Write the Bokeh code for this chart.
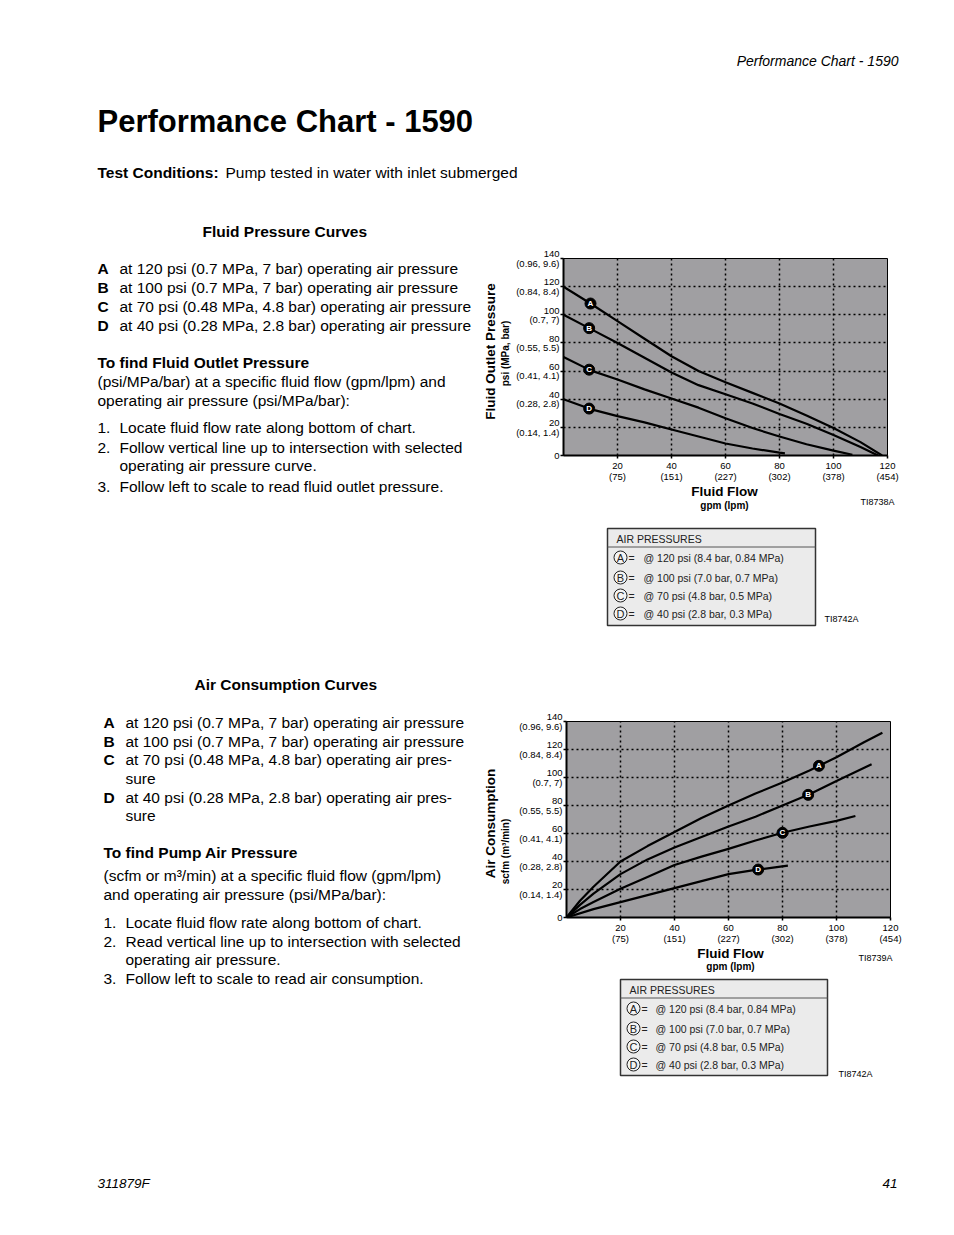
import numpy as np
from bokeh.plotting import figure
from bokeh.models import Range1d, FixedTicker
from bokeh.layouts import column, row
from bokeh.core.properties import value
from bokeh.embed import file_html
from bokeh.resources import INLINE

FONT = "Liberation Sans"
GRAY = "#a09fa2"

# ---------------- data ----------------
flow_ticks = [20, 40, 60, 80, 100, 120]
flow_lpm = ["75", "151", "227", "302", "378", "454"]
level_ticks = [0, 20, 40, 60, 80, 100, 120, 140]
level_metric = ["", "(0.14, 1.4)", "(0.28, 2.8)", "(0.41, 4.1)", "(0.55, 5.5)",
                "(0.7, 7)", "(0.84, 8.4)", "(0.96, 9.6)"]
curve_names = ["A", "B", "C", "D"]

# Fluid pressure curves: flow (gpm) -> outlet pressure (psi)
fp_A_flow = [0, 10, 20, 30, 40, 50, 60, 70, 80, 90, 100, 110, 118]
fp_A_psi = [120, 108, 95.5, 83, 70.5, 60, 52, 44.5, 37, 28.5, 19.5, 9.5, 0]
fp_B_flow = [0, 10, 20, 30, 40, 50, 60, 70, 80, 90, 100, 110, 116.5]
fp_B_psi = [100, 90, 80, 69.5, 59, 50, 43.5, 37, 29.5, 22.5, 14.5, 6, 0]
fp_C_flow = [0, 10, 20, 30, 40, 50, 60, 70, 80, 90, 100, 107]
fp_C_psi = [70, 60.5, 54, 47, 40.5, 34, 26.5, 19.5, 13.5, 8, 3.5, 0.5]
fp_D_flow = [0, 10, 20, 30, 40, 50, 60, 70, 80, 82]
fp_D_psi = [40, 33, 28, 23.5, 18.5, 13.5, 8.5, 5, 2, 1.5]
fp_label_flow = [10, 9.5, 9.5, 9.5]

# Air consumption curves: flow (gpm) -> scfm
ac_A_flow = [0, 5, 10, 20, 30, 40, 50, 60, 70, 80, 90, 100, 110, 117]
ac_A_scfm = [0, 12, 22, 40, 51, 61, 71, 80, 88.5, 96.5, 105, 114.5, 125, 132]
ac_B_flow = [0, 5, 10, 20, 30, 40, 50, 60, 70, 80, 90, 100, 113]
ac_B_scfm = [0, 9, 17, 31, 41.5, 50, 57.5, 65, 72, 80, 88, 97.5, 109.5]
ac_C_flow = [0, 5, 10, 20, 30, 40, 50, 60, 70, 80, 90, 100, 107]
ac_C_scfm = [0, 6, 11, 20.5, 29, 37.5, 43.5, 49, 55, 60.5, 65, 69, 72.5]
ac_D_flow = [0, 10, 20, 30, 40, 50, 60, 70, 82]
ac_D_scfm = [0, 6, 11, 16, 21, 26, 31, 34, 37]
ac_label_flow = [93.5, 89.5, 80, 71]

legend_psi = ["120", "100", "70", "40"]
legend_bar = ["8.4", "7.0", "4.8", "2.8"]
legend_mpa = ["0.84", "0.7", "0.5", "0.3"]

fp_desc = ["at 120 psi (0.7 MPa, 7 bar) operating air pressure",
           "at 100 psi (0.7 MPa, 7 bar) operating air pressure",
           "at 70 psi (0.48 MPa, 4.8 bar) operating air pressure",
           "at 40 psi (0.28 MPa, 2.8 bar) operating air pressure"]
ac_desc = [["at 120 psi (0.7 MPa, 7 bar) operating air pressure"],
           ["at 100 psi (0.7 MPa, 7 bar) operating air pressure"],
           ["at 70 psi (0.48 MPa, 4.8 bar) operating air pres-", "sure"],
           ["at 40 psi (0.28 MPa, 2.8 bar) operating air pres-", "sure"]]


# ---------------- helpers ----------------
def text_fig(w, h):
    p = figure(width=w, height=h, x_range=Range1d(0, w), y_range=Range1d(h, 0),
               output_backend="svg", toolbar_location=None, min_border=0,
               x_axis_location=None, y_axis_location=None,
               outline_line_color=None, background_fill_color="white",
               border_fill_color="white")
    p.grid.visible = False
    return p


def txt(p, org, x, y, s, size="15.5px", style="normal", align="left", color="black",
        angle=0.0):
    p.text(x=[x - org[0]], y=[y - org[1]], text=[s], text_font=value(FONT),
           text_font_size=size, text_font_style=style, text_align=align,
           text_baseline="middle", text_color=color, angle=angle)


def chart_fig(org, size, frame, curves_x, curves_y, label_flow, ymax=140):
    fl, ft, fr, fb = frame
    w, h = size
    p = figure(width=w, height=h, x_range=Range1d(0, 120), y_range=Range1d(0, ymax),
               output_backend="svg", toolbar_location=None,
               min_border_left=fl - org[0], min_border_right=org[0] + w - fr,
               min_border_top=ft - org[1], min_border_bottom=org[1] + h - fb,
               background_fill_color=GRAY, border_fill_color="white",
               outline_line_color="black", outline_line_width=1)
    p.xaxis.ticker = FixedTicker(ticks=flow_ticks)
    p.xaxis.major_label_overrides = {t: f"{t}\n({l})" for t, l in zip(flow_ticks, flow_lpm)}
    p.yaxis.ticker = FixedTicker(ticks=level_ticks)
    p.yaxis.major_label_overrides = {t: (f"{t}\n{m}" if m else str(t))
                                     for t, m in zip(level_ticks, level_metric)}
    for ax in p.axis:
        ax.axis_line_width = 2
        ax.axis_line_color = "black"
        ax.major_tick_line_width = 1.5
        ax.major_tick_line_color = "black"
        ax.major_tick_out = 3
        ax.major_tick_in = 0
        ax.minor_tick_out = 0
        ax.minor_tick_in = 0
        ax.major_label_text_font = FONT
        ax.major_label_text_font_size = "9.5px"
        ax.major_label_text_line_height = 1.0
        ax.major_label_text_color = "black"
        ax.major_label_standoff = 1
    p.yaxis.major_label_text_line_height = 0.85
    p.xgrid.ticker = FixedTicker(ticks=flow_ticks[:-1])
    p.ygrid.ticker = FixedTicker(ticks=level_ticks[1:-1])
    p.grid.grid_line_color = "black"
    p.grid.grid_line_dash = "2 3"
    p.grid.grid_line_width = 1.5
    for cx, cy in zip(curves_x, curves_y):
        p.line(cx, cy, line_color="black", line_width=2.2)
    lx = list(label_flow)
    ly = [float(np.interp(f, cx, cy)) for f, cx, cy in zip(label_flow, curves_x, curves_y)]
    p.scatter(lx, ly, size=11, marker="circle", fill_color="black", line_color="black")
    p.text(lx, ly, text=curve_names, text_color="white", text_font=value(FONT),
           text_font_size="8px", text_font_style="bold", text_align="center",
           text_baseline="middle")
    return p


def legend_box(p, org, box, header_y, sep_y, rows_y, circ_x, eq_x, text_x, ti_xy):
    l, r, t, b = box
    p.quad(left=[l - org[0]], right=[r - org[0]], top=[t - org[1]], bottom=[b - org[1]],
           fill_color="#ebebeb", line_color="#333333", line_width=1.5)
    p.line([l - org[0], r - org[0]], [sep_y - org[1], sep_y - org[1]],
           line_color="#555555", line_width=1)
    txt(p, org, l + 9, header_y, "AIR PRESSURES", size="10.5px", color="#222222")
    p.scatter([circ_x - org[0]] * 4, [y - org[1] for y in rows_y], size=13,
              marker="circle", fill_color="#f4f4f4", line_color="#222222", line_width=1)
    p.text([circ_x - org[0]] * 4, [y - org[1] for y in rows_y], text=curve_names,
           text_font=value(FONT), text_font_size="11px", text_align="center",
           text_baseline="middle", text_color="#222222")
    for y, psi, bar, mpa in zip(rows_y, legend_psi, legend_bar, legend_mpa):
        txt(p, org, eq_x, y, "=", size="10.5px", color="#222222")
        txt(p, org, text_x, y, f"@ {psi} psi ({bar} bar, {mpa} MPa)", size="10.5px",
            color="#222222")
    txt(p, org, ti_xy[0], ti_xy[1], "TI8742A", size="9px")


ROT = np.pi / 2

# ---------------- top block ----------------
org_top = (0, 0)
top = text_fig(910, 245)
txt(top, org_top, 898, 60, "Performance Chart - 1590", size="14px", style="italic", align="right")
txt(top, org_top, 97, 121, "Performance Chart - 1590", size="31px", style="bold")
txt(top, org_top, 97, 172, "Test Conditions:", style="bold")
txt(top, org_top, 225, 172, "Pump tested in water with inlet submerged")
txt(top, org_top, 202, 231, "Fluid Pressure Curves", style="bold")

# ---------------- fluid pressure block ----------------
org_l1 = (0, 245)
left1 = text_fig(512, 455)
for yy, nm, ds in zip([268, 287, 306, 325], curve_names, fp_desc):
    txt(left1, org_l1, 97, yy, nm, style="bold")
    txt(left1, org_l1, 119, yy, ds)
txt(left1, org_l1, 97, 362, "To find Fluid Outlet Pressure", style="bold")
txt(left1, org_l1, 97, 381, "(psi/MPa/bar) at a specific fluid flow (gpm/lpm) and")
txt(left1, org_l1, 97, 400, "operating air pressure (psi/MPa/bar):")
txt(left1, org_l1, 97, 427, "1.")
txt(left1, org_l1, 119, 427, "Locate fluid flow rate along bottom of chart.")
txt(left1, org_l1, 97, 447, "2.")
txt(left1, org_l1, 119, 447, "Follow vertical line up to intersection with selected")
txt(left1, org_l1, 119, 465, "operating air pressure curve.")
txt(left1, org_l1, 97, 486, "3.")
txt(left1, org_l1, 119, 486, "Follow left to scale to read fluid outlet pressure.")
txt(left1, org_l1, 194, 684, "Air Consumption Curves", style="bold")
txt(left1, org_l1, 490, 351, "Fluid Outlet Pressure", size="13.5px", style="bold",
    align="center", angle=ROT)
txt(left1, org_l1, 505, 353, "psi (MPa, bar)", size="10px", style="bold",
    align="center", angle=ROT)

org_c1 = (512, 245)
chart1 = chart_fig(org_c1, (398, 239), (563, 258, 887, 458),
                   [fp_A_flow, fp_B_flow, fp_C_flow, fp_D_flow],
                   [fp_A_psi, fp_B_psi, fp_C_psi, fp_D_psi], fp_label_flow)

org_g1 = (512, 484)
leg1 = text_fig(398, 216)
txt(leg1, org_g1, 724, 491, "Fluid Flow", size="13.5px", style="bold", align="center")
txt(leg1, org_g1, 724, 505, "gpm (lpm)", size="10px", style="bold", align="center")
txt(leg1, org_g1, 877, 501, "TI8738A", size="9px", align="center")
legend_box(leg1, org_g1, (607, 815, 528, 625), 538, 546.5, [557, 577, 595, 613],
           620, 628, 643, (824, 618))

# ---------------- air consumption block ----------------
org_l2 = (0, 700)
left2 = text_fig(512, 430)
yy_rows = [[722], [741], [759, 778], [797, 815]]
for ys, nm, ds in zip(yy_rows, curve_names, ac_desc):
    txt(left2, org_l2, 103, ys[0], nm, style="bold")
    for yv, line in zip(ys, ds):
        txt(left2, org_l2, 125, yv, line)
txt(left2, org_l2, 103, 852, "To find Pump Air Pressure", style="bold")
txt(left2, org_l2, 103, 875, "(scfm or m³/min) at a specific fluid flow (gpm/lpm)")
txt(left2, org_l2, 103, 894, "and operating air pressure (psi/MPa/bar):")
txt(left2, org_l2, 103, 922, "1.")
txt(left2, org_l2, 125, 922, "Locate fluid flow rate along bottom of chart.")
txt(left2, org_l2, 103, 941, "2.")
txt(left2, org_l2, 125, 941, "Read vertical line up to intersection with selected")
txt(left2, org_l2, 125, 959, "operating air pressure.")
txt(left2, org_l2, 103, 978, "3.")
txt(left2, org_l2, 125, 978, "Follow left to scale to read air consumption.")
txt(left2, org_l2, 490, 823, "Air Consumption", size="13.5px", style="bold",
    align="center", angle=ROT)
txt(left2, org_l2, 505, 851, "scfm (m³/min)", size="10px", style="bold",
    align="center", angle=ROT)

org_c2 = (512, 700)
chart2 = chart_fig(org_c2, (398, 246), (566, 721, 890, 919),
                   [ac_A_flow, ac_B_flow, ac_C_flow, ac_D_flow],
                   [ac_A_scfm, ac_B_scfm, ac_C_scfm, ac_D_scfm], ac_label_flow)

org_g2 = (512, 946)
leg2 = text_fig(398, 184)
txt(leg2, org_g2, 730, 953, "Fluid Flow", size="13.5px", style="bold", align="center")
txt(leg2, org_g2, 730, 966, "gpm (lpm)", size="10px", style="bold", align="center")
txt(leg2, org_g2, 875, 957, "TI8739A", size="9px", align="center")
legend_box(leg2, org_g2, (620, 827, 979, 1075), 989, 997.5, [1008, 1028, 1046, 1064],
           633, 641, 655, (838, 1073))

# ---------------- footer ----------------
org_f = (0, 1130)
foot = text_fig(910, 70)
txt(foot, org_f, 97, 1183, "311879F", size="13.5px", style="italic")
txt(foot, org_f, 897, 1183, "41", size="13.5px", style="italic", align="right")

page = column(top,
              row(left1, column(chart1, row(leg1))),
              row(left2, column(chart2, row(leg2))),
              foot)

open("out.html", "w").write(file_html(page, INLINE))
